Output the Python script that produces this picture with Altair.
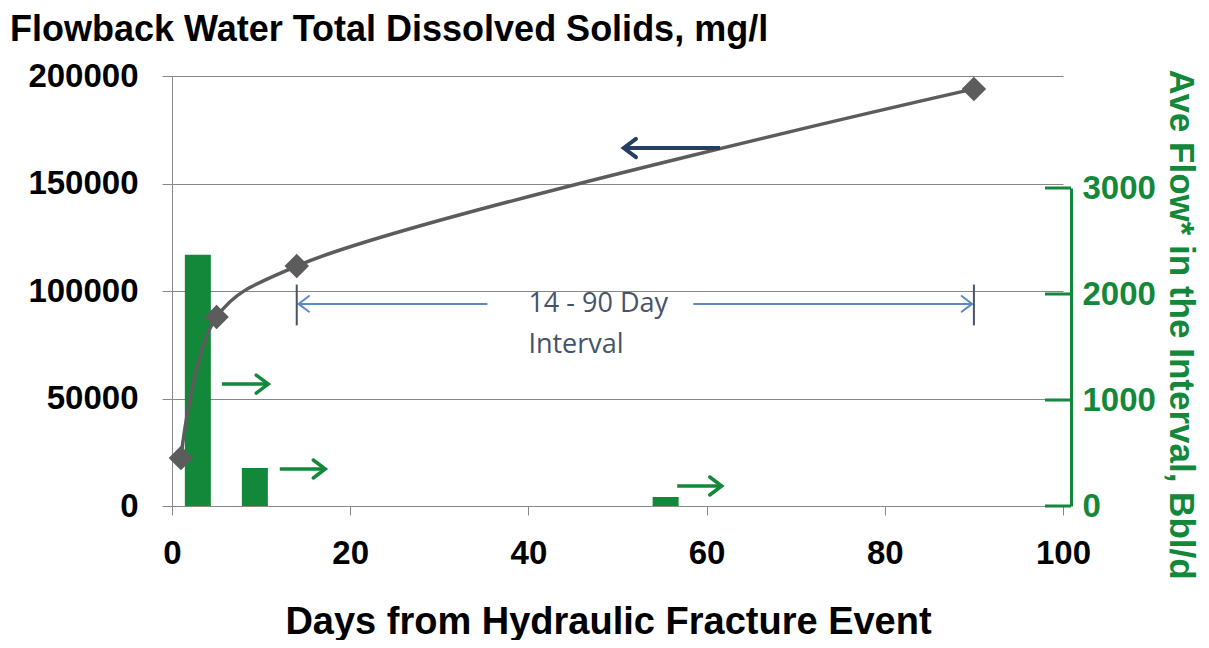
import altair as alt
import pandas as pd

# ---- data ----
days_tds = [1, 5, 14, 90]
tds = [22300, 87900, 111600, 194000]

flow_days = [2.9, 9.3, 55.4]
flow = [2370, 358, 85]

x_ticks = [0, 20, 40, 60, 80, 100]
tds_ticks = [0, 50000, 100000, 150000, 200000]
flow_ticks = [0, 1000, 2000, 3000]

chart_title = ["Flowback Water Total Dissolved Solids, mg/l"]

# annotation arrows (in days / mg/l units)
arrow_start = [61.5, 5.6, 12.1, 56.7, 35.4, 58.5]
arrow_end = [50.7, 10.8, 17.2, 61.7, 14.2, 89.8]
arrow_y = [166500, 56700, 17200, 9300, 94000, 94000]
arrow_kind = ["dark", "green", "green", "green", "interval", "interval"]

bracket_days = [14.0, 90.0]
bracket_low = [84000, 84000]
bracket_high = [103000, 103000]

note_lines = ["14 - 90 Day", "Interval"]
note_day = [40.0, 40.0]
note_y = [94000, 75000]

GREEN = "#13873a"
GRAY = "#888888"
LINE = "#5c5c5c"
W, H = 891, 430
FONT = "Liberation Sans"
TICK_FS = 33

xs = alt.Scale(domain=[0, 100], nice=False, padding=0)
ys = alt.Scale(domain=[0, 200000], nice=False)
ys_r = alt.Scale(domain=[0, 3000], range=[H, 112], nice=False)

tds_df = pd.DataFrame({"day": days_tds, "tds": tds})
flow_df = pd.DataFrame({"day": flow_days, "flow": flow})
arrows = pd.DataFrame({"x": arrow_start, "x2": arrow_end, "y": arrow_y, "kind": arrow_kind})
arrows["dir"] = ["right" if e > s else "left" for s, e in zip(arrow_start, arrow_end)]
brackets = pd.DataFrame({"x": bracket_days, "y": bracket_low, "y2": bracket_high})
notes = pd.DataFrame({"x": note_day, "y": note_y, "t": note_lines})
rticks = pd.DataFrame({"v": flow_ticks})
title_df = pd.DataFrame({"t": chart_title})

x_axis = alt.Axis(
    values=x_ticks, grid=False, domainColor=GRAY, tickColor=GRAY, tickSize=9, labelFlush=False,
    labelPadding=22, labelFontSize=TICK_FS, labelFontWeight="bold", labelColor="black",
    title="Days from Hydraulic Fracture Event", titleFontSize=38, titleFontWeight="bold",
    titleColor="black", titleX=436, titleY=127, titleBaseline="alphabetic", titleAlign="center",
)
y_axis = alt.Axis(
    values=tds_ticks, format="d", grid=True, gridColor=GRAY, gridWidth=1, domainColor=GRAY,
    tickColor=GRAY, tickSize=10, labelPadding=24, labelFontSize=TICK_FS, labelFontWeight="bold",
    labelColor="black", labelFlush=False, title=None,
)
y_axis_r = alt.Axis(
    orient="right", values=flow_ticks, format="d", grid=False, offset=8, domainColor=GREEN,
    domainWidth=3, ticks=False, tickSize=0, labelPadding=11, labelFontSize=TICK_FS,
    labelFontWeight="bold", labelColor=GREEN, labelFlush=False,
    title="Ave Flow* in the Interval, Bbl/d",
    titleColor=GREEN, titleFontSize=35, titleFontWeight="bold", titleAngle=90,
    titleX=109, titleY=248, titleAlign="center", titleBaseline="middle",
)

# right-axis layers
bars = alt.Chart(flow_df).mark_bar(color=GREEN, size=26).encode(
    x=alt.X("day:Q", scale=xs, axis=x_axis),
    y=alt.Y("flow:Q", scale=ys_r, axis=y_axis_r),
)
r_ticks = alt.Chart(rticks).mark_rule(color=GREEN, strokeWidth=3).encode(
    x=alt.value(W - 18), x2=alt.value(W + 8),
    y=alt.Y("v:Q", scale=ys_r),
)
right = alt.layer(bars, r_ticks)

# left-axis layers
line = alt.Chart(tds_df).mark_line(color=LINE, strokeWidth=3.5, interpolate="catmull-rom").encode(
    x=alt.X("day:Q", scale=xs, axis=x_axis),
    y=alt.Y("tds:Q", scale=ys, axis=y_axis),
)
pts = alt.Chart(tds_df).mark_point(shape="diamond", filled=True, color=LINE, size=600, opacity=1).encode(
    x=alt.X("day:Q", scale=xs), y=alt.Y("tds:Q", scale=ys),
)

styles = {"dark": ("#243f60", 4, 150), "green": (GREEN, 3.5, 144), "interval": ("#5b8ac6", 2, 110)}
arrow_layers = []
for kind, (col, sw, hs) in styles.items():
    d = arrows[arrows["kind"] == kind]
    shaft = alt.Chart(d).mark_rule(color=col, strokeWidth=sw).encode(
        x=alt.X("x:Q", scale=xs), x2="x2:Q", y=alt.Y("y:Q", scale=ys)
    )
    arrow_layers.append(shaft)
    for direction, path in (("right", "M-1,-0.75L0,0L-1,0.75"), ("left", "M1,-0.75L0,0L1,0.75")):
        dd = d[d["dir"] == direction]
        if len(dd) == 0:
            continue
        head = alt.Chart(dd).mark_point(
            shape=path, filled=False, color=col, strokeWidth=sw, size=4 * hs,
            strokeCap="round", strokeJoin="miter", opacity=1,
        ).encode(x=alt.X("x2:Q", scale=xs), y=alt.Y("y:Q", scale=ys))
        arrow_layers.append(head)

bracket = alt.Chart(brackets).mark_rule(color="#44546a", strokeWidth=2).encode(
    x=alt.X("x:Q", scale=xs), y=alt.Y("y:Q", scale=ys), y2="y2:Q"
)
note = alt.Chart(notes).mark_text(
    align="left", baseline="middle", font="Open Sans", fontSize=27, color="#44546a"
).encode(x=alt.X("x:Q", scale=xs), y=alt.Y("y:Q", scale=ys), text="t:N")

title_txt = alt.Chart(title_df).mark_text(
    align="left", baseline="alphabetic", fontSize=36, fontWeight="bold", color="black", font=FONT
).encode(x=alt.value(-162), y=alt.value(-35), text="t:N")

left = alt.layer(line, pts, *arrow_layers, bracket, note, title_txt)

chart = alt.layer(right, left).resolve_scale(y="independent").properties(
    width=W, height=H,
    autosize=alt.AutoSizeParams(type="none"),
    padding={"left": 164, "top": 68, "right": 138, "bottom": 134},
).configure(font=FONT).configure_view(stroke=None)

chart.save("out.html", embed_options={"renderer": "svg", "actions": False})
